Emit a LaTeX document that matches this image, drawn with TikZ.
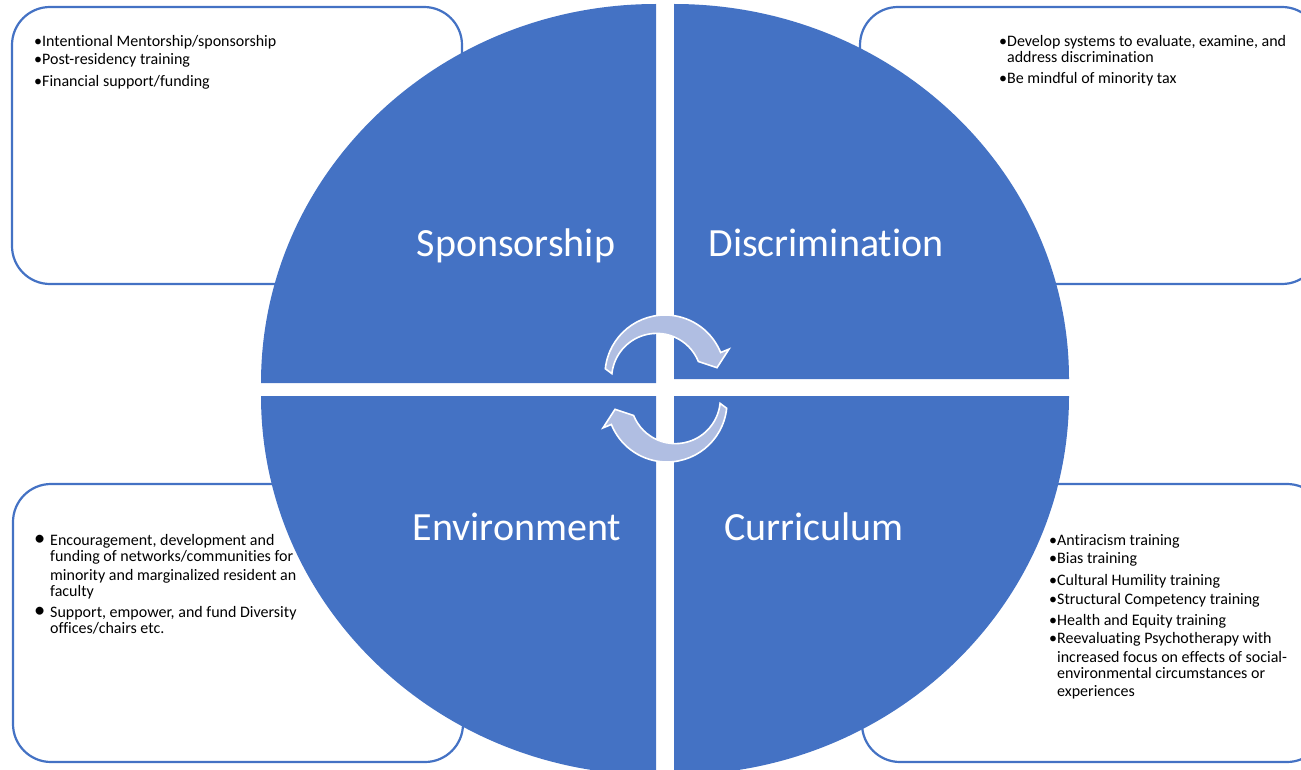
\documentclass[tikz,border=0pt]{standalone}
\usepackage{fontspec}
\setmainfont{Carlito}[Ligatures=NoCommon]
\definecolor{quadblue}{RGB}{68,114,196}
\definecolor{arrowblue}{RGB}{176,190,226}

\tikzset{
  quad/.style={fill=quadblue},
  itembox/.style={draw=quadblue, line width=2.2pt, fill=white, rounded corners=38pt},
  cyclearrow/.style={fill=arrowblue, draw=white, line width=1.6pt},
  quadlabel/.style={text=white, font=\fontsize{40}{48}\selectfont, inner sep=0pt, anchor=base},
  itemlist/.style={align=left, inner sep=0pt, anchor=base west, font=\fontsize{16}{#1}\selectfont},
  itemlist/.default=18,
}

\newcommand{\itembul}{\textbullet}
\newcommand{\itemhang}{\hphantom{\textbullet}}
\newcommand{\dotbul}{\makebox[16pt][l]{\scalebox{1.4}{\textbullet}}}
\newcommand{\dotgap}{\hspace*{16pt}}

\begin{document}
\begin{tikzpicture}[x=1pt, y=1pt]
\clip (0,0) rectangle (1301,-770);

% boxes behind the circle
\draw[itembox] (12,-7) rectangle (462,-284);
\draw[itembox] (860,-7) rectangle (1320,-284);
\draw[itembox] (13,-484) rectangle (463,-762);
\draw[itembox] (862,-484) rectangle (1325,-762);

% the four quarters
\fill[quad] (656,-383) -- (261,-383) arc[start angle=180, end angle=90, x radius=395pt, y radius=379pt] -- cycle;
\fill[quad] (674,-379) -- (674,-4) arc[start angle=90, end angle=0, x radius=395pt, y radius=375pt] -- cycle;
\fill[quad] (656,-396) -- (261,-396) arc[start angle=180, end angle=270, x radius=395pt, y radius=379pt] -- cycle;
\fill[quad] (674,-396) -- (1069,-396) arc[start angle=0, end angle=-90, x radius=395pt, y radius=379pt] -- cycle;

% cycle arrows
\begin{scope}[shift={(665,-375)}]
    \draw[cyclearrow] (174:60pt) arc[start angle=174, end angle=22, radius=60pt]
        -- (22:69pt) -- (8:52.5pt) -- (22:36pt)
        arc[start angle=22, end angle=174, radius=45pt] -- cycle;
\end{scope}
\begin{scope}[shift={(667,-402)}]
    \draw[cyclearrow] (-6:60pt) arc[start angle=-6, end angle=-158, radius=60pt]
        -- (-158:69pt) -- (-172:52.5pt) -- (-158:36pt)
        arc[start angle=-158, end angle=-6, radius=45pt] -- cycle;
\end{scope}

% labels
\node[quadlabel] (sponsor) at (516,-256) {Sponsorship};
\node[quadlabel] (discrim) at (826,-256) {Discrimination};
\node[quadlabel] (environ) at (517,-540) {Environment};
\node[quadlabel] (curric) at (814,-540) {Curriculum};

% bullet lists (placed at the baseline of the last line)
\node[itemlist=18] (sponsorlist) at (34,-86.5) {\itembul Intentional Mentorship/sponsorship\\
    \itembul Post-residency training\\[4pt]
    \itembul Financial support/funding};
\node[itemlist=16] (discrimlist) at (999,-84) {\itembul Develop systems to evaluate, examine, and\\
    \itemhang address discrimination\\[5.5pt]
    \itembul Be mindful of minority tax};
\node[itemlist=16] (environlist) at (34,-633.3) {\dotbul Encouragement, development and\\
    \dotgap funding of networks/communities for\\[3pt]
    \dotgap minority and marginalized resident an\\
    \dotgap faculty\\[5pt]
    \dotbul Support, empower, and fund Diversity\\
    \dotgap offices/chairs etc.};
\node[itemlist=18] (curriclist) at (1049,-696.7) {\itembul Antiracism training\\
    \itembul Bias training\\[3.5pt]
    \itembul Cultural Humility training\\[1.3pt]
    \itembul Structural Competency training\\[2.7pt]
    \itembul Health and Equity training\\
    \itembul Reevaluating Psychotherapy with\\[1.4pt]
    \itemhang increased focus on effects of social-\\[-2.4pt]
    \itemhang environmental circumstances or\\[0.4pt]
    \itemhang experiences};

\end{tikzpicture}
\end{document}
